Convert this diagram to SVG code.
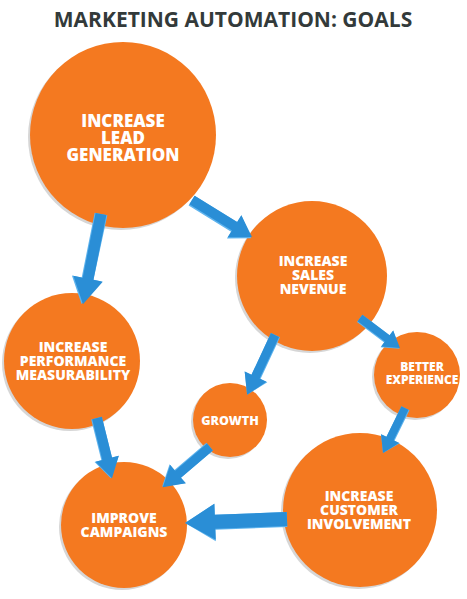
<svg xmlns="http://www.w3.org/2000/svg" width="467" height="599" viewBox="0 0 467 599">
<style>
.bg{fill:#ffffff}
.title{font-family:"Open Sans","Liberation Sans",sans-serif;font-weight:700;font-size:21px;fill:#333a3a;text-anchor:middle}
.c{fill:#f47920}
.sh{fill:#d6d6d6}
.t{font-family:"Open Sans","Liberation Sans",sans-serif;font-weight:800;fill:#ffffff;text-anchor:middle}
.a{fill:#2a8ed6}
.al{fill:#5fb4ee}
</style>
<rect class="bg" x="0" y="0" width="467" height="599"/>
<text class="title" x="233" y="27">MARKETING AUTOMATION: GOALS</text>

<g id="n-lead">
<circle class="sh" cx="121" cy="137" r="93"/>
<circle class="c" cx="123" cy="135" r="93"/>
<text class="t" font-size="17"><tspan x="123" y="127">INCREASE</tspan><tspan x="123" y="144">LEAD</tspan><tspan x="123" y="161">GENERATION</tspan></text>
</g>
<g id="n-sales">
<circle class="sh" cx="310" cy="278" r="75"/>
<circle class="c" cx="312" cy="276" r="75"/>
<text class="t" font-size="14"><tspan x="313" y="266">INCREASE</tspan><tspan x="313" y="280">SALES</tspan><tspan x="313" y="294">NEVENUE</tspan></text>
</g>
<g id="n-perf">
<circle class="sh" cx="70" cy="363" r="68"/>
<circle class="c" cx="72" cy="361" r="68"/>
<text class="t" font-size="14"><tspan x="73" y="352">INCREASE</tspan><tspan x="73" y="366">PERFORMANCE</tspan><tspan x="73" y="380">MEASURABILITY</tspan></text>
</g>
<g id="n-better">
<circle class="sh" cx="415" cy="377" r="43"/>
<circle class="c" cx="417" cy="375" r="43"/>
<text class="t" font-size="12"><tspan x="422" y="371">BETTER</tspan><tspan x="422" y="384">EXPERIENCE</tspan></text>
</g>
<g id="n-growth">
<circle class="sh" cx="228" cy="422" r="37"/>
<circle class="c" cx="230" cy="420" r="37"/>
<text class="t" font-size="12.5" x="230" y="424.5">GROWTH</text>
</g>
<g id="n-improve">
<circle class="sh" cx="122" cy="527" r="63"/>
<circle class="c" cx="124" cy="525" r="63"/>
<text class="t" font-size="14"><tspan x="124" y="523">IMPROVE</tspan><tspan x="124" y="537">CAMPAIGNS</tspan></text>
</g>
<g id="n-customer">
<circle class="sh" cx="358" cy="512" r="77"/>
<circle class="c" cx="360" cy="510" r="77"/>
<text class="t" font-size="14"><tspan x="359" y="501">INCREASE</tspan><tspan x="359" y="515">CUSTOMER</tspan><tspan x="359" y="529">INVOLVEMENT</tspan></text>
</g>

<g id="connectors">
<g transform="translate(101,214) rotate(101.3)">
<polygon class="al" points="0,-6.5 0,6.5 66,6.5 66,16.5 92,1.5 66,-14 66,-5.5"/>
<polygon class="a" points="0,-5.5 0,5.5 66,5.5 66,15 92,0 66,-15 66,-5.5"/>
</g>
<g transform="translate(192,200) rotate(31.7)">
<polygon class="al" points="0,-5 0,6.5 50,6.5 50,14.5 70.5,1.5 50,-13 50,-5"/>
<polygon class="a" points="0,-5 0,5 50,5 50,13 70.5,0 50,-13 50,-5"/>
</g>
<g transform="translate(275,335) rotate(115)">
<polygon class="al" points="0,-5.5 0,4.5 46,4.5 46,12 66,0 46,-13 46,-5.5"/>
<polygon class="a" points="0,-4.5 0,4.5 46,4.5 46,12 66,0 46,-12 46,-4.5"/>
</g>
<g transform="translate(360,318) rotate(36.9)">
<polygon class="al" points="0,-4 0,5 34,5 34,11 50,1 34,-10 34,-4"/>
<polygon class="a" points="0,-4 0,4 34,4 34,10 50,0 34,-10 34,-4"/>
</g>
<g transform="translate(405,408) rotate(116.1)">
<polygon class="al" points="0,-5 0,4 34,4 34,10 50,0 34,-11 34,-5"/>
<polygon class="a" points="0,-4 0,4 34,4 34,10 50,0 34,-10 34,-4"/>
</g>
<g transform="translate(210,447) rotate(139.6)">
<polygon class="al" points="0,-4.5 0,5.5 42,5.5 42,13 62,1 42,-12 42,-4.5"/>
<polygon class="a" points="0,-4.5 0,4.5 42,4.5 42,12 62,0 42,-12 42,-4.5"/>
</g>
<g transform="translate(97,418) rotate(76)">
<polygon class="al" points="0,-5 0,6 42,6 42,13 62,1 42,-12 42,-5"/>
<polygon class="a" points="0,-5 0,5 42,5 42,12 62,0 42,-12 42,-5"/>
</g>
<g transform="translate(287,519) rotate(177.8)">
<polygon class="al" points="0,-8 0,7 72,7 72,18 102,0 72,-19.5 72,-8"/>
<polygon class="a" points="0,-7 0,7 72,7 72,18 102,0 72,-18 72,-7"/>
</g>
</g>
</svg>
